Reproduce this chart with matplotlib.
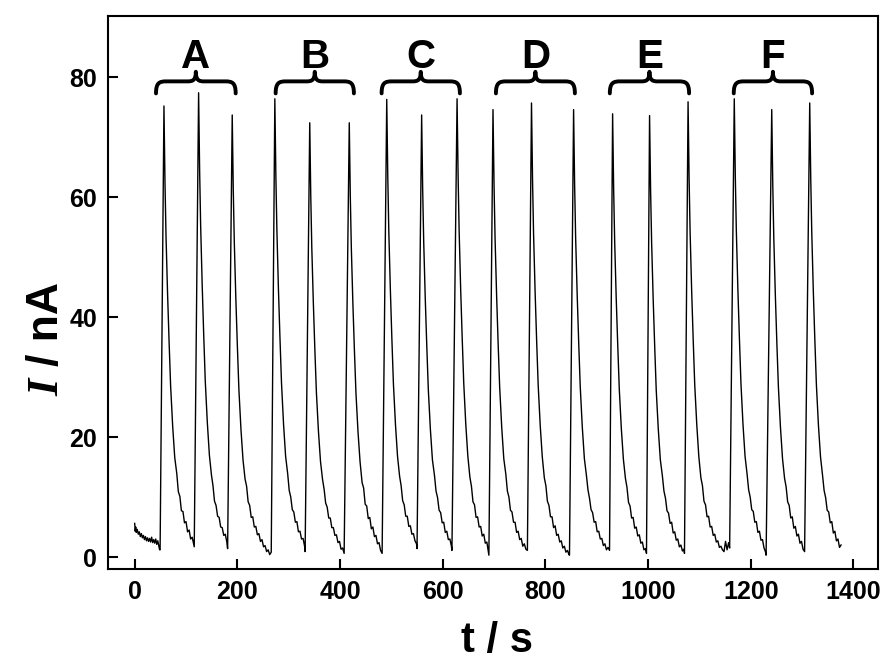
import matplotlib
matplotlib.use('Agg')
import matplotlib.pyplot as plt
from matplotlib.path import Path
from matplotlib.patches import PathPatch

# ---------------- data ----------------
# baseline before the first injection
time_base_s = [0, 1, 2, 3, 5, 7, 9, 11, 13, 15, 17, 19, 21, 23, 25, 27, 29,
               31, 33, 35, 37, 39, 41, 43, 45, 47, 48.5]
current_base_nA = [5.6, 4.3, 5.0, 4.1, 4.6, 3.8, 4.2, 3.4, 3.9, 3.2, 3.6, 2.9,
                   3.4, 2.7, 3.2, 2.6, 3.1, 2.5, 3.3, 2.4, 2.9, 2.3, 3.0, 2.1,
                   2.7, 1.8, 1.2]

# injection (rise) start, current just before rise, peak time and peak current
rise_start_s = [49.5, 116, 181, 266, 332, 408, 482, 550, 618, 690, 765, 847,
                925, 997, 1071, 1159, 1230, 1305]
rise_base_nA = [1.2, 1.7, 1.4, 0.8, 0.9, 0.6, 0.6, 1.4, 1.1, 0.3, 1.1, 0.3,
                1.1, 0.6, 0.6, 1.5, 0.3, 0.9]
peak_time_s = [57, 124.5, 190, 273, 341, 418, 491, 559, 628, 698, 773, 855,
               931, 1003, 1078, 1168, 1241, 1315]
peak_nA = [75.2, 77.4, 73.7, 76.4, 72.4, 72.4, 76.3, 73.7, 76.4, 74.6, 75.7,
           74.6, 73.9, 73.6, 75.9, 76.4, 74.6, 75.7]

# seconds after each peak at which the decay was read
decay_offsets_s = [2, 4, 7, 10, 13, 17, 21, 25, 28, 31, 34, 37, 40, 43, 46,
                   49, 52, 55, 58, 61, 64, 67, 70, 73, 76, 79]

decay_A = [
    [62.5, 53.6, 44.0, 35.9, 28.5, 21.8, 16.6, 13.9, 10.9, 10.1, 7.7, 7.6, 5.7,
     5.9, 4.2, 4.5, 3.0, 3.3, 2.1],
    [64.4, 55.2, 45.3, 36.9, 29.3, 22.4, 17.0, 13.7, 11.9, 9.3, 8.6, 6.8, 6.6,
     5.0, 4.9, 3.6, 3.8, 2.5],
    [61.3, 52.6, 43.2, 35.2, 27.9, 21.3, 16.2, 13.0, 11.8, 9.2, 8.6, 6.6, 6.7,
     5.0, 5.1, 3.7, 3.9, 2.6, 2.9, 1.7, 1.9, 0.9, 1.2, 0.4],
]
decay_B = [
    [63.6, 54.5, 44.7, 36.5, 29.0, 22.1, 16.8, 13.9, 11.1, 10.0, 7.9, 7.5, 5.8,
     5.9, 4.2, 4.3, 3.0, 3.1, 1.8],
    [60.2, 51.6, 42.4, 34.5, 27.4, 20.9, 15.9, 12.9, 11.3, 9.0, 8.3, 6.5, 6.5,
     4.9, 4.9, 3.6, 3.7, 2.4, 2.6, 1.3, 1.5],
    [60.2, 51.6, 42.4, 34.5, 27.4, 20.9, 15.9, 12.4, 11.5, 8.8, 8.5, 6.4, 6.6,
     4.7, 5.0, 3.4, 3.6, 2.2, 2.4, 1.1],
]
decay_C = [
    [63.5, 54.4, 44.7, 36.4, 28.9, 22.1, 16.8, 13.5, 11.9, 9.4, 8.7, 6.8, 6.8,
     5.1, 5.2, 3.8, 3.9, 2.7, 2.2],
    [61.3, 52.6, 43.2, 35.2, 27.9, 21.3, 16.2, 13.6, 11.0, 9.9, 7.8, 7.4, 5.7,
     5.8, 4.1, 4.3, 2.9, 3.0, 1.8],
    [63.6, 54.5, 44.7, 36.5, 29.0, 22.1, 16.8, 13.3, 11.8, 9.2, 8.7, 6.6, 6.7,
     5.0, 5.1, 3.5, 3.8, 2.3, 2.5, 0.9],
]
decay_D = [
    [62.1, 53.2, 43.7, 35.6, 28.3, 21.6, 16.4, 13.8, 11.0, 10.0, 7.8, 7.5, 5.8,
     5.8, 4.1, 4.3, 2.9, 3.1, 1.8, 2.2, 1.3],
    [63.0, 54.0, 44.3, 36.1, 28.7, 21.9, 16.7, 13.2, 11.9, 9.3, 8.6, 6.7, 6.7,
     4.9, 5.2, 3.6, 3.8, 2.5, 2.7, 1.5, 1.8, 0.8, 1.1, 0.4],
    [62.1, 53.2, 43.7, 35.6, 28.3, 21.6, 16.4, 13.6, 11.2, 9.8, 7.9, 7.4, 5.8,
     5.9, 4.2, 4.3, 3.0, 3.1, 1.9, 2.2, 1.2, 1.6],
]
decay_E = [
    [61.5, 52.7, 43.2, 35.3, 28.0, 21.4, 16.3, 13.1, 11.6, 9.1, 8.5, 6.5, 6.6,
     4.8, 5.0, 3.5, 3.7, 2.3, 2.5, 1.2, 1.4],
    [61.2, 52.5, 43.1, 35.1, 27.8, 21.3, 16.2, 13.5, 11.0, 9.8, 7.7, 7.3, 5.6,
     5.8, 4.0, 4.2, 2.8, 3.0, 1.7, 2.0, 1.0, 1.3],
    [63.1, 54.1, 44.4, 36.2, 28.7, 22.0, 16.7, 13.2, 11.9, 9.3, 8.7, 6.7, 6.8,
     5.0, 5.1, 3.6, 3.8, 2.5, 2.7, 1.6, 1.8, 1.2, 0.9, 2.6, 1.2, 2.4],
]
decay_F = [
    [63.6, 54.5, 44.7, 36.5, 29.0, 22.1, 16.8, 13.8, 11.2, 10.0, 7.9, 7.6, 5.8,
     5.9, 4.1, 4.3, 2.8, 2.9, 1.5, 0.8],
    [62.1, 53.2, 43.7, 35.6, 28.3, 21.6, 16.4, 13.1, 11.7, 9.2, 8.6, 6.5, 6.7,
     4.8, 5.1, 3.5, 3.8, 2.3, 2.6, 1.3],
    [63.0, 54.0, 44.3, 36.1, 28.7, 21.9, 16.7, 13.6, 11.1, 9.9, 7.8, 7.5, 5.7,
     5.9, 4.0, 4.3, 2.7, 3.0, 1.6, 2.0],
]

group_labels = ['A', 'B', 'C', 'D', 'E', 'F']
group_span_s = [(41.5, 196.7), (274.6, 427.0), (481.0, 633.5),
                (703.7, 857.5), (925.6, 1080.0), (1167.0, 1319.6)]

x_ticks = [0, 200, 400, 600, 800, 1000, 1200, 1400]
y_ticks = [0, 20, 40, 60, 80]

# ---------------- assemble the trace ----------------
decays = decay_A + decay_B + decay_C + decay_D + decay_E + decay_F
t_all = list(time_base_s)
i_all = list(current_base_nA)
n = len(peak_time_s)
for k in range(n):
    t_all.append(rise_start_s[k]); i_all.append(rise_base_nA[k])
    t_all.append(peak_time_s[k]); i_all.append(peak_nA[k])
    limit = rise_start_s[k + 1] if k + 1 < n else 1e9
    for off, v in zip(decay_offsets_s, decays[k]):
        tt = peak_time_s[k] + off
        if tt < limit:
            t_all.append(tt); i_all.append(v)

# ---------------- figure ----------------
W, H = 884, 661
fig = plt.figure(figsize=(W / 100, H / 100), dpi=100)
ax = fig.add_axes([108 / W, (H - 569) / H, (878 - 108) / W, (569 - 16) / H])

ax.plot(t_all, i_all, color='black', lw=1.0)

ax.set_xlim(-52, 1448)
ax.set_ylim(-2, 90.2)
ax.set_xticks(x_ticks)
ax.set_yticks(y_ticks)
ax.tick_params(direction='in', length=7, width=1.5, pad=8, labelsize=18)
for lab in ax.get_xticklabels() + ax.get_yticklabels():
    lab.set_fontfamily('Liberation Sans')
    lab.set_fontweight('bold')
for sp in ax.spines.values():
    sp.set_linewidth(1.5)


def draw_brace(ax, x0, x1, yb=77.3, yf=79.3, yt=80.9, r=20.0, rc=16.0):
    xc = 0.5 * (x0 + x1)
    verts = [
        (x0, yb),
        (x0, yb + 0.9 * (yf - yb)), (x0 + 0.35 * r, yf), (x0 + r, yf),
        (xc - rc, yf),
        (xc - 0.4 * rc, yf), (xc, yf + 0.1 * (yt - yf)), (xc, yt),
        (xc, yf + 0.1 * (yt - yf)), (xc + 0.4 * rc, yf), (xc + rc, yf),
        (x1 - r, yf),
        (x1 - 0.35 * r, yf), (x1, yb + 0.9 * (yf - yb)), (x1, yb),
    ]
    codes = [Path.MOVETO,
             Path.CURVE4, Path.CURVE4, Path.CURVE4,
             Path.LINETO,
             Path.CURVE4, Path.CURVE4, Path.CURVE4,
             Path.CURVE4, Path.CURVE4, Path.CURVE4,
             Path.LINETO,
             Path.CURVE4, Path.CURVE4, Path.CURVE4]
    patch = PathPatch(Path(verts, codes), facecolor='none', edgecolor='black',
                      lw=2.8, capstyle='round', joinstyle='round')
    ax.add_patch(patch)
    return xc


for lab, (x0, x1) in zip(group_labels, group_span_s):
    xc = draw_brace(ax, x0, x1)
    ax.text(xc, 81.6, lab, ha='center', va='baseline', fontsize=29,
            fontfamily='Liberation Sans', fontweight='bold')

# x label
fig.text(497 / W, 9 / H, 't / s', ha='center', va='baseline', fontsize=30,
         fontfamily='Liberation Sans', fontweight='bold')

# y label: italic serif "I" followed by " / nA"
fig.canvas.draw()
renderer = fig.canvas.get_renderer()
t1 = fig.text(58 / W, (H - 396) / H, 'I', rotation=90, rotation_mode='anchor',
              ha='left', va='baseline', fontsize=32,
              fontfamily='Liberation Serif', fontweight='bold', fontstyle='italic')
bb = t1.get_window_extent(renderer)
fig.text(58 / W, (bb.y1 + 13) / H, '/ nA', rotation=90, rotation_mode='anchor',
         ha='left', va='baseline', fontsize=32,
         fontfamily='Liberation Sans', fontweight='bold')

fig.savefig('out.png', dpi=100)
